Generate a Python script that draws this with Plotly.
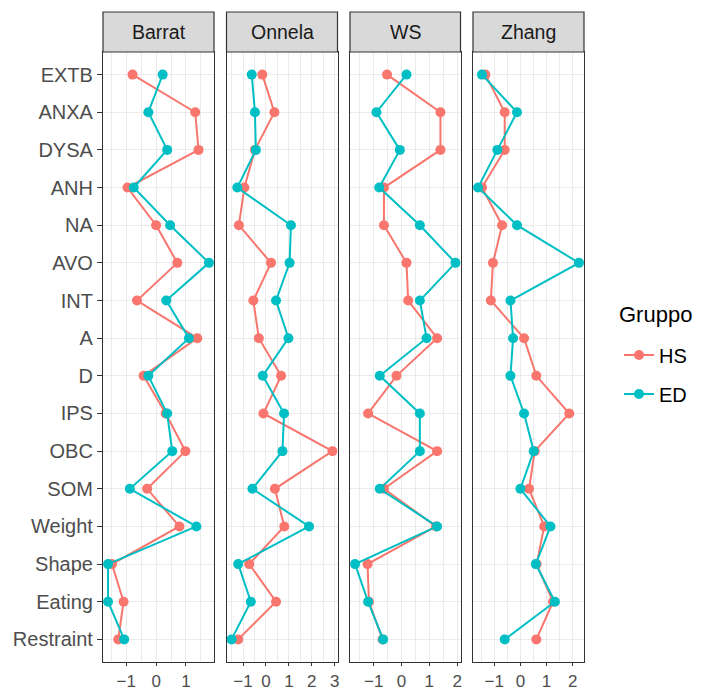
import plotly.graph_objects as go

categories = ["EXTB", "ANXA", "DYSA", "ANH", "NA", "AVO", "INT", "A", "D",
              "IPS", "OBC", "SOM", "Weight", "Shape", "Eating", "Restraint"]
panels = ["Barrat", "Onnela", "WS", "Zhang"]

barrat_hs = [-0.79, 1.31, 1.42, -0.96, 0.00, 0.71, -0.64, 1.38, -0.42, 0.32, 0.98, -0.30, 0.78, -1.48, -1.09, -1.27]
barrat_ed = [0.22, -0.26, 0.37, -0.75, 0.47, 1.77, 0.34, 1.10, -0.26, 0.37, 0.54, -0.88, 1.35, -1.61, -1.61, -1.07]
onnela_hs = [-0.16, 0.37, -0.48, -0.94, -1.18, 0.22, -0.55, -0.31, 0.66, -0.11, 2.90, 0.39, 0.80, -0.73, 0.44, -1.21]
onnela_ed = [-0.62, -0.48, -0.44, -1.25, 1.09, 1.03, 0.44, 0.98, -0.14, 0.79, 0.72, -0.59, 1.88, -1.21, -0.66, -1.50]
ws_hs = [-0.52, 1.40, 1.40, -0.63, -0.63, 0.18, 0.24, 1.28, -0.18, -1.20, 1.28, -0.63, 1.24, -1.22, -1.17, -0.68]
ws_ed = [0.18, -0.90, -0.06, -0.80, 0.66, 1.94, 0.66, 0.90, -0.78, 0.66, 0.66, -0.78, 1.28, -1.67, -1.20, -0.66]
zhang_hs = [-1.34, -0.60, -0.60, -1.47, -0.70, -1.05, -1.13, 0.14, 0.61, 1.87, 0.55, 0.33, 0.91, 0.62, 1.25, 0.61]
zhang_ed = [-1.47, -0.13, -0.88, -1.62, -0.13, 2.24, -0.38, -0.28, -0.38, 0.14, 0.51, 0.00, 1.15, 0.59, 1.32, -0.60]

groups = ["HS", "ED"]
legend_title = "Gruppo"
colors = {"HS": "#F8766D", "ED": "#00BFC4"}
data = {
    "Barrat": {"HS": barrat_hs, "ED": barrat_ed},
    "Onnela": {"HS": onnela_hs, "ED": onnela_ed},
    "WS": {"HS": ws_hs, "ED": ws_ed},
    "Zhang": {"HS": zhang_hs, "ED": zhang_ed},
}

FONT = "Liberation Sans, Arial, sans-serif"
# the page body adds an 8px offset; figure coordinates = screen - 8
W, H = 687, 683
ML, MR, MT, MB = 95, 111, 44, 29
PW = W - ML - MR
PH = H - MT - MB
dom_px = [(0, 111), (123.5, 234.5), (247, 357.5), (370, 481)]

fig = go.Figure()
for i, p in enumerate(panels):
    xa = "x" if i == 0 else f"x{i+1}"
    ya = "y" if i == 0 else f"y{i+1}"
    for g in groups:
        fig.add_trace(go.Scatter(
            x=data[p][g], y=categories, mode="lines+markers",
            name=g, legendgroup=g, showlegend=(i == 0),
            line=dict(color=colors[g], width=2),
            marker=dict(color=colors[g], size=10),
            xaxis=xa, yaxis=ya,
        ))

def fy(screen_y):
    # screen y pixel -> paper fraction
    return (MT + PH - (screen_y - 8)) / PH

def fx(screen_x):
    return ((screen_x - 8) - ML) / PW

layout = dict(
    width=W, height=H,
    margin=dict(l=ML, r=MR, t=MT, b=MB, autoexpand=False),
    paper_bgcolor="white", plot_bgcolor="white",
    font=dict(family=FONT, size=19, color="#4D4D4D"),
    legend=dict(
        font=dict(size=20, color="#000000"),
        x=fx(619), xanchor="left",
        y=fy(374.5), yanchor="middle",
        tracegroupgap=10, bgcolor="rgba(0,0,0,0)",
    ),
    shapes=[],
    annotations=[dict(
        text=legend_title, xref="paper", yref="paper",
        x=fx(617), y=fy(314), xanchor="left", yanchor="middle",
        showarrow=False, font=dict(size=22, color="#000000", family=FONT),
    )],
)

for i, p in enumerate(panels):
    sfx = "" if i == 0 else str(i + 1)
    vals = data[p]["HS"] + data[p]["ED"]
    lo, hi = min(vals), max(vals)
    pad = (hi - lo) * 0.05
    d0, d1 = dom_px[i]
    layout["xaxis" + sfx] = dict(
        domain=[d0 / PW, d1 / PW], anchor="y" + sfx,
        range=[lo - pad, hi + pad],
        tickmode="linear", tick0=0, dtick=1,
        showgrid=True, gridcolor="#EBEBEB", gridwidth=1.4,
        minor=dict(dtick=0.5, tick0=0, showgrid=True, gridcolor="#EBEBEB", gridwidth=0.7),
        showline=True, linecolor="#333333", linewidth=1.2, mirror=True,
        ticks="outside", ticklen=3, tickcolor="#333333", tickwidth=1,
        tickfont=dict(size=17, color="#4D4D4D"),
        zeroline=False, fixedrange=True, automargin=False,
    )
    layout["yaxis" + sfx] = dict(
        domain=[0, 1], anchor="x" + sfx,
        type="category", categoryorder="array", categoryarray=categories,
        range=[len(categories) - 0.4, -0.6],
        showgrid=True, gridcolor="#EBEBEB", gridwidth=1.4,
        showline=True, linecolor="#333333", linewidth=1.2, mirror=True,
        ticks="outside" if i == 0 else "", ticklen=5, tickcolor="#333333", tickwidth=1,
        showticklabels=(i == 0),
        tickfont=dict(size=20, color="#4D4D4D"),
        zeroline=False, fixedrange=True, automargin=False,
    )
    if i > 0:
        layout["yaxis" + sfx]["matches"] = "y"
    strip_h = 40 / PH
    layout["shapes"].append(dict(
        type="rect", xref=f"x{sfx} domain", yref=f"y{sfx} domain",
        x0=0, x1=1, y0=1, y1=1 + strip_h,
        fillcolor="#D9D9D9", line=dict(color="#333333", width=1.2),
    ))
    layout["annotations"].append(dict(
        text=p, xref=f"x{sfx} domain", yref=f"y{sfx} domain",
        x=0.5, y=1 + strip_h / 2, showarrow=False,
        xanchor="center", yanchor="middle",
        font=dict(size=19.5, color="#1A1A1A", family=FONT),
    ))

fig.update_layout(**layout)
fig.write_html("out.html")
